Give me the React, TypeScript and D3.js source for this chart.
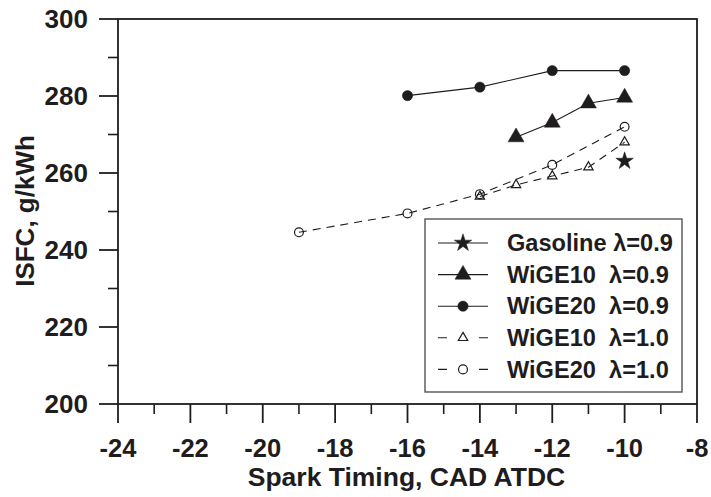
import React from "react";
import * as d3 from "d3";

// Spark timing (CAD ATDC) and ISFC (g/kWh) per fuel / lambda setting
const gasolineX = [-10];
const gasolineY = [263.1];

const wige10RichX = [-13, -12, -11, -10];
const wige10RichY = [269.3, 273.1, 278.1, 279.6];

const wige20RichX = [-16, -14, -12, -10];
const wige20RichY = [280.1, 282.3, 286.6, 286.6];

const wige10StoichX = [-14, -13, -12, -11, -10];
const wige10StoichY = [253.9, 256.9, 259.2, 261.5, 268.0];

const wige20StoichX = [-19, -16, -14, -12, -10];
const wige20StoichY = [244.6, 249.5, 254.5, 262.1, 272.0];

const xTicks = [-24, -22, -20, -18, -16, -14, -12, -10, -8];
const yTicks = [200, 220, 240, 260, 280, 300];

const legendLabels = [
  "Gasoline λ=0.9",
  "WiGE10  λ=0.9",
  "WiGE20  λ=0.9",
  "WiGE10  λ=1.0",
  "WiGE20  λ=1.0",
];

type Marker = "star" | "triFill" | "dotFill" | "triOpen" | "dotOpen";

const W = 711;
const H = 497;
const INK = "#1f1c1d";
const FONT = "'Liberation Sans', Arial, sans-serif";

const x = d3.scaleLinear().domain([-24, -8]).range([118, 697]);
const y = d3.scaleLinear().domain([200, 300]).range([404, 19]);

function markerPath(m: Marker): string {
  switch (m) {
    case "star":
      return d3.symbol(d3.symbolStar, 95)() as string;
    case "triFill":
      return d3.symbol(d3.symbolTriangle, 110)() as string;
    case "dotFill":
      return d3.symbol(d3.symbolCircle, 84)() as string;
    case "triOpen":
      return d3.symbol(d3.symbolTriangle, 38)() as string;
    case "dotOpen":
      return d3.symbol(d3.symbolCircle, 62)() as string;
  }
}

function isOpen(m: Marker) {
  return m === "triOpen" || m === "dotOpen";
}

function MarkerGlyph({ m, cx, cy }: { m: Marker; cx: number; cy: number }) {
  const open = isOpen(m);
  return (
    <path
      d={markerPath(m)}
      transform={`translate(${cx},${cy})`}
      fill={open ? "none" : INK}
      stroke={INK}
      strokeWidth={open ? 1.2 : 0.5}
    />
  );
}

interface Series {
  xs: number[];
  ys: number[];
  marker: Marker;
  dashed: boolean;
}

const series: Series[] = [
  { xs: gasolineX, ys: gasolineY, marker: "star", dashed: false },
  { xs: wige10RichX, ys: wige10RichY, marker: "triFill", dashed: false },
  { xs: wige20RichX, ys: wige20RichY, marker: "dotFill", dashed: false },
  { xs: wige10StoichX, ys: wige10StoichY, marker: "triOpen", dashed: true },
  { xs: wige20StoichX, ys: wige20StoichY, marker: "dotOpen", dashed: true },
];

export default function App() {
  const line = d3
    .line<[number, number]>()
    .x((d) => x(d[0]))
    .y((d) => y(d[1]));

  const minorX = d3.range(-24, -7, 1).filter((v) => v % 2 !== 0);
  const minorY = d3.range(200, 301, 10).filter((v) => v % 20 !== 0);

  const legendX = 425;
  const legendY = 219;
  const legendW = 257;
  const legendH = 173;
  const rowY0 = 243;
  const rowStep = 31.6;

  return (
    <svg
      width={W}
      height={H}
      style={{ position: "absolute", left: 0, top: 0, background: "#fff" }}
      fontFamily={FONT}
    >
      <rect width={W} height={H} fill="#fff" />

      {/* data lines */}
      {series.map((s, i) =>
        s.xs.length > 1 ? (
          <path
            key={`l${i}`}
            d={line(s.xs.map((v, j) => [v, s.ys[j]] as [number, number])) as string}
            fill="none"
            stroke={INK}
            strokeWidth={1.1}
            strokeDasharray={s.dashed ? "8,6" : undefined}
          />
        ) : null
      )}

      {/* markers */}
      {series.map((s, i) =>
        s.xs.map((v, j) => (
          <MarkerGlyph key={`m${i}-${j}`} m={s.marker} cx={x(v)} cy={y(s.ys[j])} />
        ))
      )}

      {/* frame */}
      <rect
        x={x(-24)}
        y={y(300)}
        width={x(-8) - x(-24)}
        height={y(200) - y(300)}
        fill="none"
        stroke={INK}
        strokeWidth={1.8}
      />

      {/* x ticks */}
      {xTicks.map((t) => (
        <g key={`xt${t}`}>
          <line x1={x(t)} x2={x(t)} y1={y(200)} y2={y(200) + 19} stroke={INK} strokeWidth={1.8} />
          <text
            x={x(t)}
            y={457}
            textAnchor="middle"
            fontSize={25.5}
            fontWeight="bold"
            fill={INK}
          >
            {t}
          </text>
        </g>
      ))}
      {minorX.map((t) => (
        <line key={`xm${t}`} x1={x(t)} x2={x(t)} y1={y(200)} y2={y(200) + 10} stroke={INK} strokeWidth={1.6} />
      ))}

      {/* y ticks */}
      {yTicks.map((t) => (
        <g key={`yt${t}`}>
          <line x1={x(-24) - 19} x2={x(-24)} y1={y(t)} y2={y(t)} stroke={INK} strokeWidth={1.8} />
          <text
            x={88}
            y={y(t) + 9.3}
            textAnchor="end"
            fontSize={26}
            fontWeight="bold"
            fill={INK}
          >
            {t}
          </text>
        </g>
      ))}
      {minorY.map((t) => (
        <line key={`ym${t}`} x1={x(-24) - 10} x2={x(-24)} y1={y(t)} y2={y(t)} stroke={INK} strokeWidth={1.6} />
      ))}

      {/* axis titles */}
      <text
        x={406.5}
        y={486}
        textAnchor="middle"
        fontSize={26.5}
        fontWeight="bold"
        fill={INK}
      >
        Spark Timing, CAD ATDC
      </text>
      <text
        transform={`translate(34,211) rotate(-90)`}
        textAnchor="middle"
        fontSize={26}
        fontWeight="bold"
        fill={INK}
      >
        ISFC, g/kWh
      </text>

      {/* legend */}
      <rect
        x={legendX}
        y={legendY}
        width={legendW}
        height={legendH}
        fill="#fff"
        stroke="#555"
        strokeWidth={1.4}
      />
      {series.map((s, i) => {
        const cy = rowY0 + i * rowStep;
        return (
          <g key={`lg${i}`}>
            <line
              x1={438}
              x2={488}
              y1={cy}
              y2={cy}
              stroke={INK}
              strokeWidth={1.1}
              strokeDasharray={s.dashed ? "9,32" : undefined}
            />
            <MarkerGlyph m={s.marker} cx={463} cy={cy} />
            <text
              x={507}
              y={cy + 8.2}
              fontSize={23.6}
              fontWeight="bold"
              fill={INK}
              style={{ whiteSpace: "pre" }}
            >
              {legendLabels[i]}
            </text>
          </g>
        );
      })}
    </svg>
  );
}
